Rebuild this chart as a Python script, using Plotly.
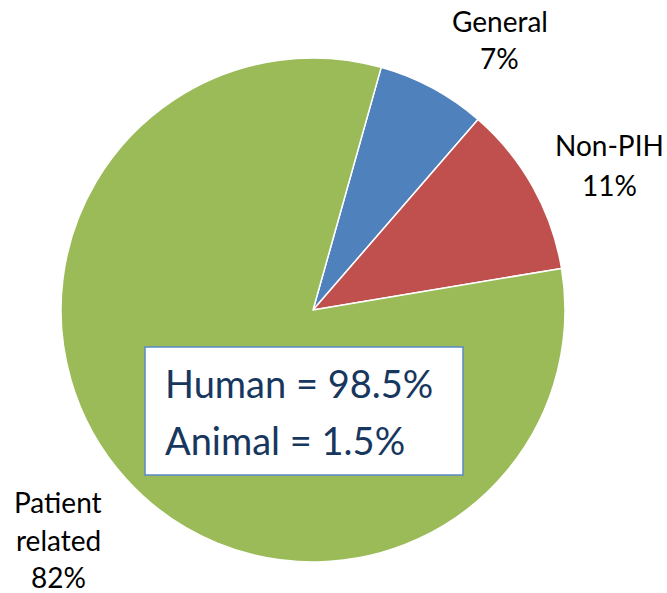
import plotly.graph_objects as go

W, H = 667, 593

labels = ["General", "Non-PIH", "Patient related"]
values = [7, 11, 82]
colors = ["#4F81BD", "#C0504D", "#9BBB59"]
label_lines = [["General", "7%"], ["Non-PIH", "11%"], ["Patient", "related", "82%"]]
box_lines = ["Human = 98.5%", "Animal = 1.5%"]

FONT = "Lato, 'Open Sans', sans-serif"

def px(x):
    return x / W

def py(y):
    return 1 - y / H

fig = go.Figure(go.Pie(
    labels=labels, values=values, sort=False, direction="clockwise",
    rotation=15.7, textinfo="none", hoverinfo="label+percent",
    marker=dict(colors=colors, line=dict(color="white", width=1.5)),
    domain=dict(x=[px(61), px(565)], y=[py(562), py(58)]),
    showlegend=False,
))

label_pos = [(500, [21, 58]), (609, [145, 185]), (58, [502, 540, 577])]
annotations = []
for lines, (x, ys) in zip(label_lines, label_pos):
    for t, y in zip(lines, ys):
        annotations.append(dict(x=px(x), y=py(y), xref="paper", yref="paper", text=t,
                                showarrow=False, font=dict(family=FONT, size=28, color="#000000"),
                                xanchor="center", yanchor="middle"))

for t, y in zip(box_lines, [383, 440]):
    annotations.append(dict(x=px(163), y=py(y), xref="paper", yref="paper",
                            text=t, showarrow=False,
                            font=dict(family=FONT, size=38, color="#17375E"),
                            xanchor="left", yanchor="middle"))

fig.update_layout(
    width=W, height=H, margin=dict(l=0, r=0, t=0, b=0),
    paper_bgcolor="white", plot_bgcolor="white",
    annotations=annotations,
    shapes=[dict(type="rect", xref="paper", yref="paper",
                 x0=px(145), x1=px(463), y0=py(475), y1=py(347),
                 fillcolor="white", line=dict(color="#5B8BC9", width=1.5), layer="above")],
)

fig.write_html("out.html", config={"displayModeBar": False},
               post_script="document.body.style.margin='0';document.body.style.overflow='hidden';")
